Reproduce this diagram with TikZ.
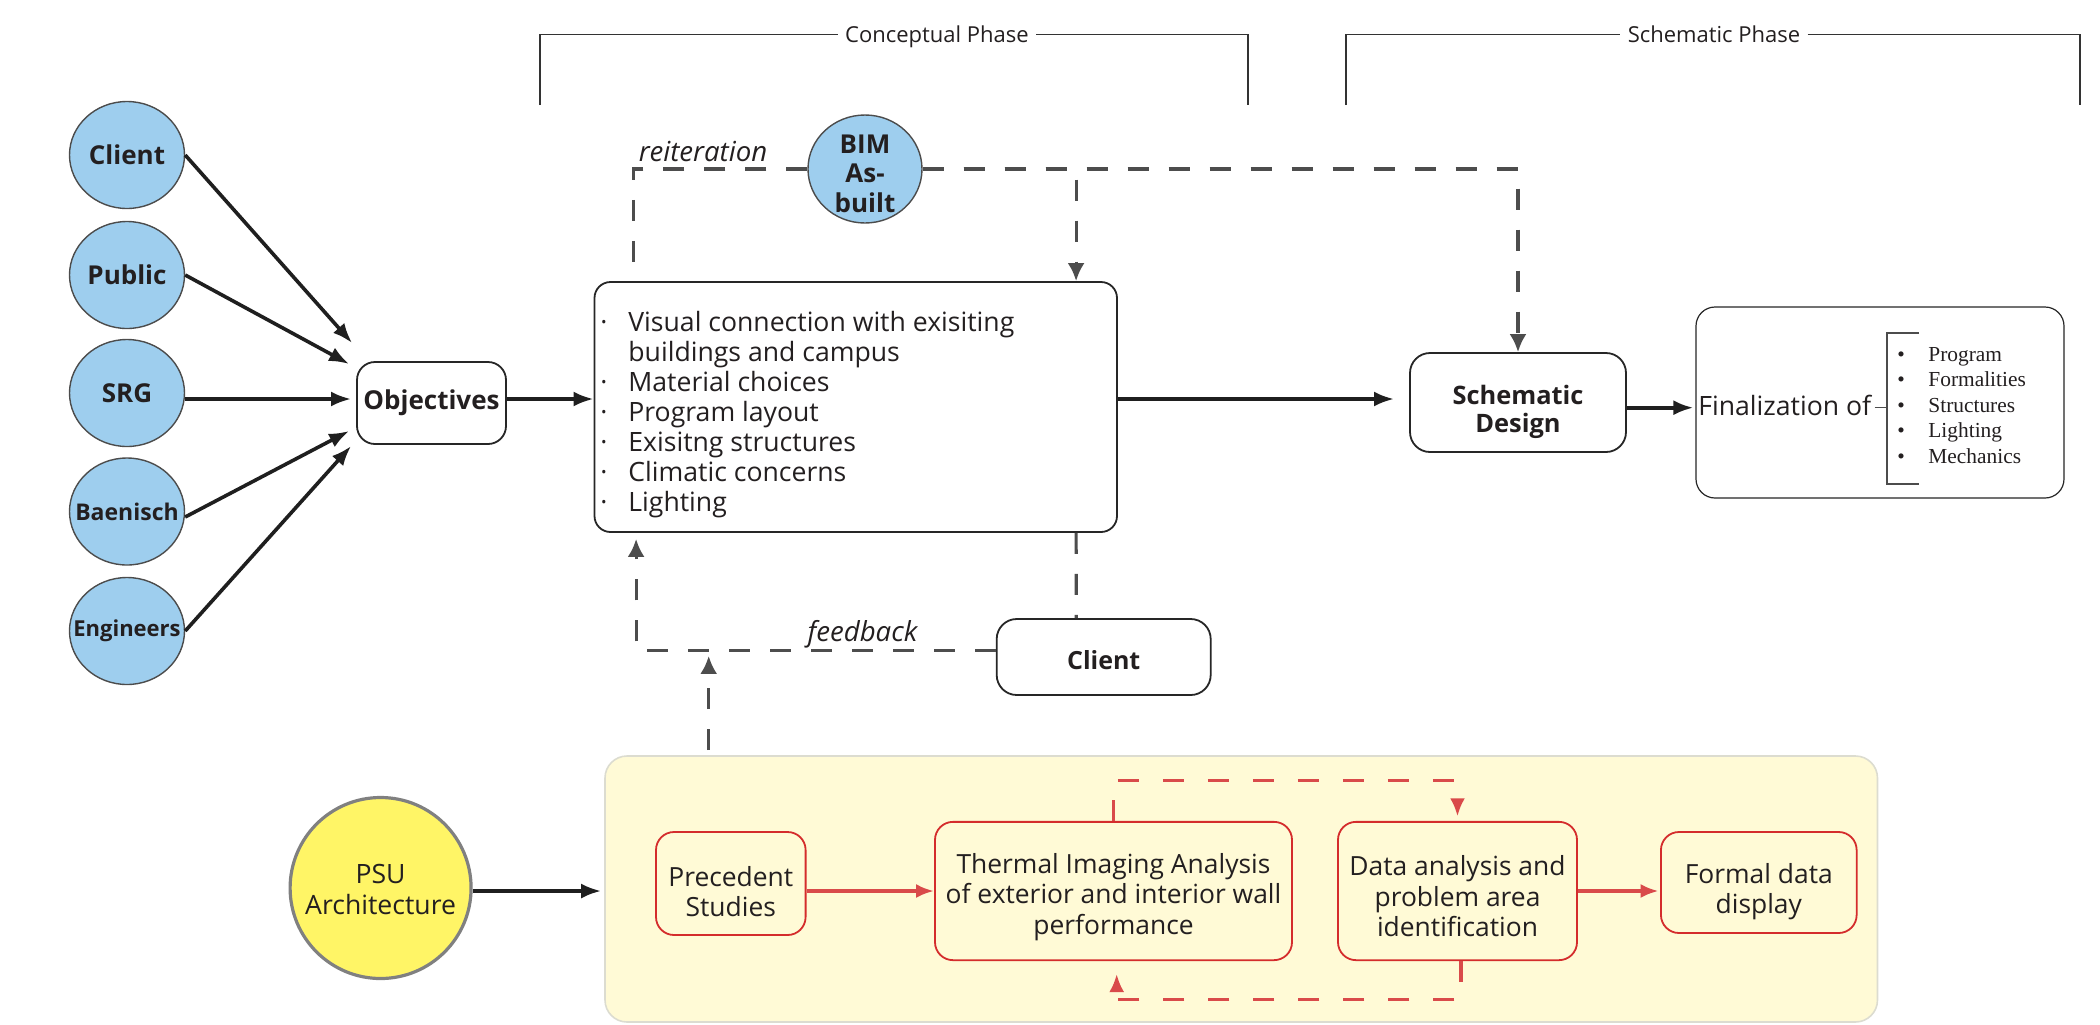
\documentclass[tikz,border=0pt]{standalone}
\usepackage{fontspec}
\setmainfont{Open Sans}
\newfontfamily\seriff{Liberation Serif}
\usetikzlibrary{arrows.meta,calc,shapes.geometric}
\definecolor{bluefill}{HTML}{9ECEEE}
\definecolor{psufill}{HTML}{FFF566}
\definecolor{psuborder}{HTML}{808080}
\definecolor{yelbox}{HTML}{FFFAD6}
\definecolor{yelborder}{HTML}{DCDCD0}
\definecolor{dgray}{HTML}{4D4D4D}
\definecolor{redline}{HTML}{D94A4A}
\definecolor{redbox}{HTML}{D42C2C}
\definecolor{txt}{HTML}{231F20}
\newcommand{\topstrut}[1]{\rule{0pt}{#1}}
\begin{document}
\begin{tikzpicture}[x=0.5pt,y=-0.5pt,
  circ/.style={ellipse, draw=black!70, line width=0.7pt, fill=bluefill, inner sep=0pt, minimum width=57.5pt, minimum height=53.5pt, text=txt, font=\bfseries\fontsize{13}{15}\selectfont},
  wbox/.style={draw=black!85, line width=0.9pt, fill=white, inner sep=0pt, align=center, text=txt},
  rbox/.style={draw=redbox, line width=0.9pt, rounded corners=9pt, fill=yelbox, inner sep=0pt, align=center, text=txt, font=\fontsize{13.2}{15.25}\selectfont},
  blk/.style={draw=black!88, line width=1.8pt, -{Latex[length=10pt,width=7.5pt]}},
  gdash/.style={draw=dgray, line width=1.6pt, dash pattern=on 10.5pt off 10pt},
  gtip/.style={-{Latex[length=9pt,width=8.5pt]}},
  rarrow/.style={draw=redline, line width=2pt, -{Latex[length=9pt,width=7pt]}},
  rdash/.style={draw=redline, line width=1.6pt, dash pattern=on 10.5pt off 12pt, -{Latex[length=9pt,width=7.5pt]}},
  phase/.style={draw=black!80, line width=0.8pt},
  phasetxt/.style={font=\fontsize{11}{13}\selectfont, text=txt, inner sep=3.5pt, anchor=base},
  thinline/.style={draw=black!70, line width=0.6pt},
]
\useasboundingbox (0,0) rectangle (2100,1024);

% phase brackets
\node[phasetxt] (cphase) at (937,42.7) {Conceptual Phase};
\node[phasetxt] (sphase) at (1714,42.7) {Schematic Phase};
\coordinate (cpL) at (540,34.3);
\coordinate (cpR) at (1248,34.3);
\coordinate (spL) at (1346,34.3);
\coordinate (spR) at (2080,34.3);
\draw[phase] (540,105) -- (cpL) -- (cpL -| cphase.west);
\draw[phase] (cpR -| cphase.east) -- (cpR) -- (1248,105);
\draw[phase] (1346,105) -- (spL) -- (spL -| sphase.west);
\draw[phase] (spR -| sphase.east) -- (spR) -- (2080,105);

% blue circles
\node[circ] (c1) at (127,155) {\makebox[0pt]{Client}};
\node[circ] (c2) at (127,275) {\makebox[0pt]{Public}};
\node[circ] (c3) at (127,393) {\makebox[0pt]{SRG}};
\node[circ, font=\bfseries\fontsize{11.5}{13}\selectfont] (c4) at (127,511.5) {\makebox[0pt]{Baenisch}};
\node[circ, font=\bfseries\fontsize{11}{13}\selectfont] (c5) at (127,631) {\makebox[0pt]{Engineers}};

% objectives
\node[wbox, rounded corners=9pt, minimum width=74.5pt, minimum height=41pt, font=\bfseries\fontsize{13}{15}\selectfont] (obj) at (431.5,403) {Objectives};

\draw[blk] (c1.east) -- ($(obj.west)+(-4,-60)$);
\draw[blk] (c2.east) -- ($(obj.west)+(-7,-39)$);
\draw[blk] ($(c3.east)+(0,6)$) -- ($(obj.west)+(-5,-4)$);
\draw[blk] ($(c4.east)+(0,5.5)$) -- ($(obj.west)+(-7,28)$);
\draw[blk] (c5.east) -- ($(obj.west)+(-5,43)$);

% main box
\node[wbox, rounded corners=8pt, minimum width=261.25pt, minimum height=125pt] (main) at (855.75,407) {};
\node[anchor=base west, inner sep=0pt, text=txt, font=\fontsize{13.3}{15}\selectfont] (mainlist) at (600,331) {%
\begin{tabular}[t]{@{}l@{}l@{}}
\makebox[14pt][l]{·} & Visual connection with exisiting\\
 & buildings and campus\\
\makebox[14pt][l]{·} & Material choices\\
\makebox[14pt][l]{·} & Program layout\\
\makebox[14pt][l]{·} & Exisitng structures\\
\makebox[14pt][l]{·} & Climatic concerns\\
\makebox[14pt][l]{·} & Lighting
\end{tabular}};

\draw[blk] ($(obj.east)+(0,-4)$) coordinate (oa) -- (oa -| main.west);

% BIM
\node[circ, minimum width=57pt, minimum height=54pt] (bim) at (865,169) {};
\node[align=center, text=txt, inner sep=0pt, font=\bfseries\fontsize{13}{14.75}\selectfont] (bimtxt) at (865,173.5) {BIM\\As-\\built};

\node[anchor=base, inner sep=0pt, text=txt, font=\itshape\fontsize{13.8}{15}\selectfont] (reit) at (703,161.7) {reiteration};

\draw[gdash] (bim.west) -| ($(main.north west)+(39.5,-10)$);
\draw[gdash, gtip] (bim.east) -| ($(main.north west)+(482.5,0)$);

% schematic design
\node[wbox, rounded corners=10pt, minimum width=108pt, minimum height=49.5pt, font=\bfseries\fontsize{12.7}{14.2}\selectfont] (sd) at (1518,402.5) {\topstrut{18.9pt}Schematic\\Design};
\draw[gdash, gtip] (bim.east) -| (sd.north);
\draw[blk, shorten >=7.5pt] ($(main.east)+(0,-8)$) coordinate (ma) -- (ma -| sd.west);

% finalization
\node[wbox, line width=0.6pt, rounded corners=9.5pt, minimum width=184pt, minimum height=95.5pt] (fin) at (1880,402.5) {};
\draw[blk, shorten >=1pt] ($(sd.east)+(0,5.2)$) coordinate (sa) -- (sa -| fin.west);
\node[anchor=base west, inner sep=0pt, text=txt, font=\fontsize{13.3}{15}\selectfont] (finof) at (1698,415) {Finalization of};
\coordinate (brk) at (1887,407.7);
\draw[thinline] ($(finof.east |- brk)+(3,0)$) -- (brk);
\draw[thinline] (1919,333) -- (1887,333) -- (1887,484) -- (1919,484);
\node[anchor=base west, inner sep=0pt, text=txt, font=\seriff\fontsize{10.7}{12.75}\selectfont] (finlist) at (1897,361) {%
\begin{tabular}[t]{@{}l@{}l@{}}
\makebox[15.5pt][l]{•} & Program\\
\makebox[15.5pt][l]{•} & Formalities\\
\makebox[15.5pt][l]{•} & Structures\\
\makebox[15.5pt][l]{•} & Lighting\\
\makebox[15.5pt][l]{•} & Mechanics
\end{tabular}};

% client feedback
\node[wbox, rounded corners=10pt, minimum width=107pt, minimum height=38pt, font=\bfseries\fontsize{12.5}{15}\selectfont] (cl2) at (1103.7,657) {\topstrut{12.2pt}Client};
\draw[gdash] ($(main.south west)+(482.5,0)$) -- ($(cl2.north west)+(80.5,0)$);
\draw[gdash, gtip] ($(cl2.west)+(0,-6.3)$) -| ($(main.south west)+(42.5,6)$);
\node[anchor=base, inner sep=0pt, text=txt, font=\itshape\fontsize{13.8}{15}\selectfont] (fb) at (862.5,641.7) {feedback};

% yellow box
\node[draw=yelborder, line width=0.8pt, fill=yelbox, rounded corners=11pt, minimum width=636.25pt, minimum height=133pt, inner sep=0pt] (ybox) at (1241.25,889) {};
\draw[gdash, gtip] ($(ybox.north west)+(104.5,-5)$) -- ++(0,-94.3);

% PSU
\node[circle, draw=psuborder, line width=1.6pt, fill=psufill, minimum size=90.5pt, inner sep=0pt] (psu) at (380.6,888) {};
\node[align=center, text=txt, inner sep=0pt, font=\fontsize{13.3}{15.85}\selectfont] (psutxt) at (380.6,889.5) {PSU\\Architecture};
\draw[blk, shorten >=1.5pt] ($(psu.east)+(0,3)$) coordinate (pa) -- (pa -| ybox.west);

% red boxes
\node[rbox, minimum width=74.8pt, minimum height=51.5pt] (prec) at (730.8,883.5) {\topstrut{18pt}Precedent\\Studies};
\node[rbox, minimum width=178.5pt, minimum height=69.15pt] (therm) at (1113.5,891) {\topstrut{16pt}Thermal Imaging Analysis\\of exterior and interior wall\\performance};
\node[rbox, minimum width=119.5pt, minimum height=69.15pt] (data) at (1457.5,891) {\topstrut{15.4pt}Data analysis and\\problem area\\identification};
\node[rbox, minimum width=97.85pt, minimum height=50.5pt] (formal) at (1758.8,882.5) {\topstrut{19pt}Formal data\\display};

\draw[rarrow] (prec.east |- therm.west) -- (therm.west);
\draw[rarrow, shorten >=0.7pt] (data.east) -- (formal.west |- data.east);
\draw[rdash] (therm.north) -- ++(0,-40.7) -| ($(data.north)+(0,-4.7)$);
\draw[rdash] ($(data.south)+(3.5,0)$) -- ++(0,38.3) -| ($(therm.south)+(3.2,13)$);
\end{tikzpicture}
\end{document}
